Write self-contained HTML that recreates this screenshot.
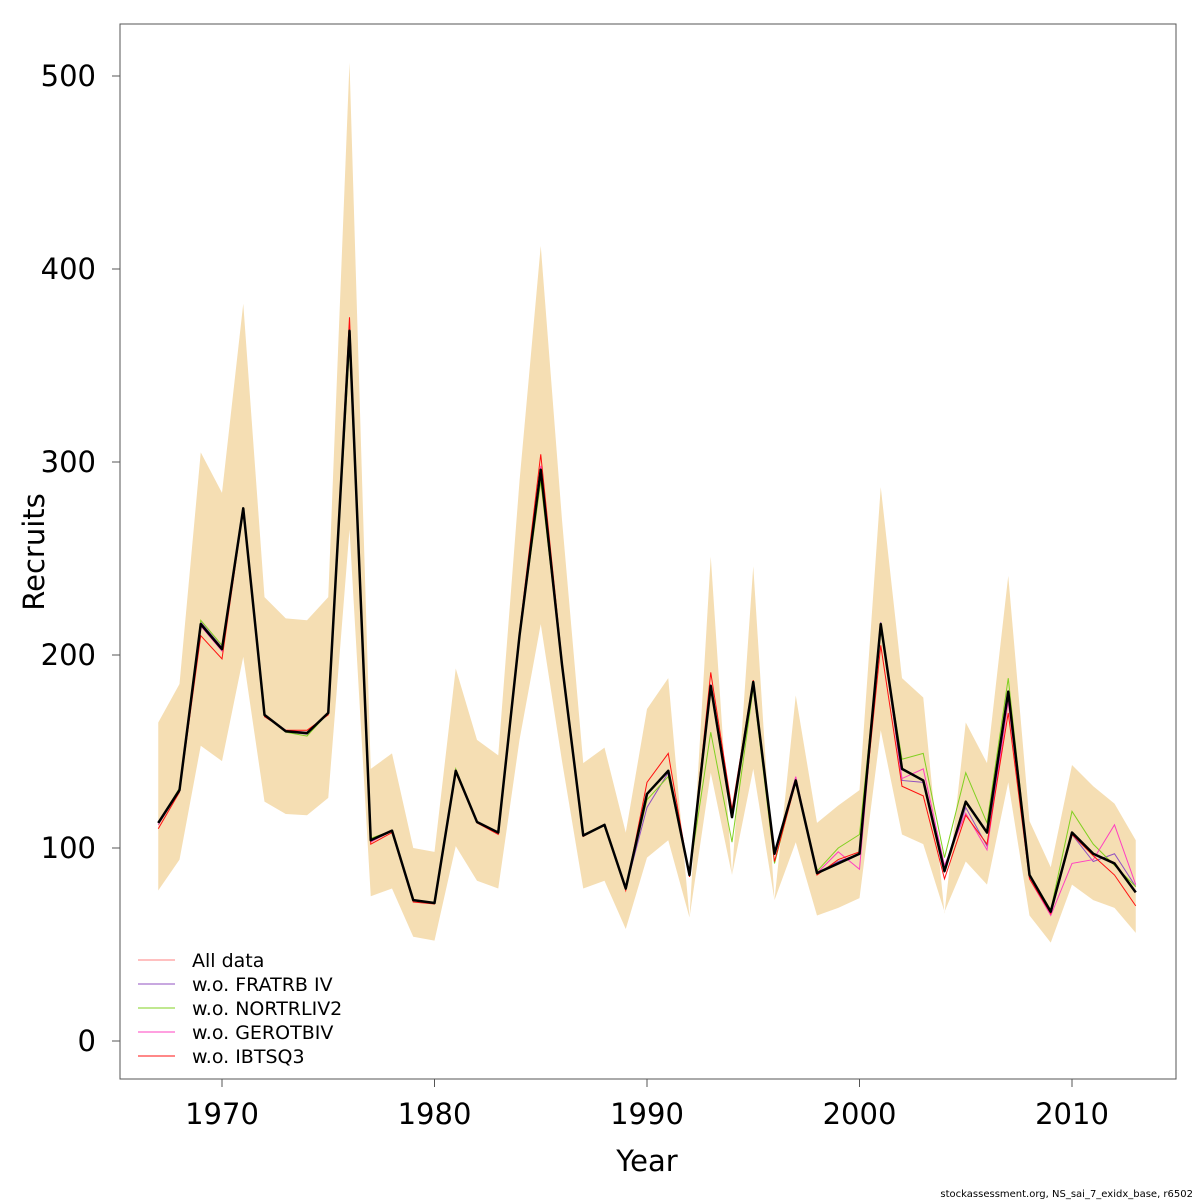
<!DOCTYPE html>
<html><head><meta charset="utf-8"><style>
body{margin:0;background:#fff}
svg{display:block;font-family:"DejaVu Sans","Liberation Sans",sans-serif}
</style></head><body>
<svg id="chart" width="1200" height="1200" viewBox="0 0 1200 1200">
<rect x="0" y="0" width="1200" height="1200" fill="#fff"/>
<g id="band"></g>
<g id="lines"></g>
<rect x="120" y="24" width="1056" height="1055" fill="none" stroke="#555" stroke-width="1"/>
<g id="yaxis"></g>
<g id="xaxis"></g>
<text x="647" y="1171" font-size="29" text-anchor="middle">Year</text>
<text transform="translate(44,552) rotate(-90)" font-size="29" text-anchor="middle">Recruits</text>
<g id="legend"></g>
<text x="1193" y="1197" font-size="10" text-anchor="end">stockassessment.org, NS_sai_7_exidx_base, r6502</text>
</svg>
<script>
const years=[];for(let y=1967;y<=2013;y++)years.push(y);
const base=[113,130,216,203,276,169,160.5,159.5,170,368,104,109,73,71.5,140,113.5,108,210,296,195,106.5,112,79,128,140,86,184,116,186,97,135,87,92,97,216,141,135,88,124,108,181,86,67,108,97,92,77];
const upper=[165,185,305,284,382,230,219,218,230,507,141,149,100,98,193,156,148,290,412,270,144,152,108,172,188,64,251,86,246,73,179,113,122,130,287,188,178,66,165,144,241,114,90,143,132,123,104];
const lower=[78,94,153,145,199,124,117.6,117,126,265,75,79,54,52,101,83,79,156,216,145,79,83,58,95,104,64,139,86,141,73,103,65,69,74,161,107,102,67,93,81,134,65,51,81,73,69,56];
const allData=base.slice();
const woFRATRB=[113,131,217,204,276,169,160,159,170,366,104,109,73,71.5,140,113.5,108,210,295,195,106.5,112,79,121,139,86,183,116,186,97,136,87,93,97,217,135,134,88,121,101,180,86,66,107,93,97,80];
const woNORTRLIV2=[113,131,218,205,276,169,160,158,170,360,105,109,73,71,141,113.5,108,210,290,195,106.5,112,79,125,137,87,160,103,183,92,135,88,100,107,213,146,149,95,139,113,188,86,68,119,102,91,80];
const woGEROTBIV=[112,130,215,202,276,169,161,160,170,370,103,109,73,71.5,140,113.5,108,210,298,195,106.5,112,79,128,140,86,185,117,186,97,137,87,98,89,216,136,141,91,118,99,176,84,65,92,94,112,81];
const woIBTSQ3=[110,129,210,198,275,168,161,161,169,375,102,108,72,71,139,113,107,212,304,197,106,112,78,134,149,85,191,120,187,93,134,86,94,98,205,132,127,84,117,102,170,84,66,107,96,86,70];
const seriesNames=["All data","w.o. FRATRB IV","w.o. NORTRLIV2","w.o. GEROTBIV","w.o. IBTSQ3"];
const seriesColors=["#ff8080","#9050c0","#80d020","#ff40c0","#ff1010"];
const seriesData=[allData,woFRATRB,woNORTRLIV2,woGEROTBIV,woIBTSQ3];
const yTicks=[0,100,200,300,400,500];
const xTicks=[1970,1980,1990,2000,2010];

const NS="http://www.w3.org/2000/svg";
const xs=y=>222+(y-1970)*21.25;
const ys=v=>1041-v*1.93;
function mk(tag,attrs,parent){const e=document.createElementNS(NS,tag);for(const k in attrs)e.setAttribute(k,attrs[k]);parent.appendChild(e);return e;}

const bandG=document.getElementById('band');
let pts=years.map((y,i)=>xs(y)+','+ys(upper[i]));
pts=pts.concat(years.map((y,i)=>xs(y)+','+ys(lower[i])).reverse());
const poly=mk('polygon',{points:pts.join(' '),fill:'#f5deb3'},bandG);



const linesG=document.getElementById('lines');
seriesData.forEach((d,si)=>{
  const p=mk('polyline',{points:years.map((y,i)=>xs(y)+','+ys(d[i])).join(' '),fill:'none',stroke:seriesColors[si],'stroke-width':1},linesG);
  
  
});
const bl=mk('polyline',{points:years.map((y,i)=>xs(y)+','+ys(base[i])).join(' '),fill:'none',stroke:'#000','stroke-width':2.5,'stroke-linejoin':'round'},linesG);



const yg=document.getElementById('yaxis');
mk('line',{x1:120,x2:120,y1:ys(0),y2:ys(500),stroke:'#555'},yg);
yTicks.forEach(t=>{
  mk('line',{x1:112,x2:120,y1:ys(t),y2:ys(t),stroke:'#555'},yg);
  const tx=mk('text',{x:96,y:ys(t)+10,'font-size':29,'text-anchor':'end'},yg);
  tx.textContent=t;
  
  
});
const xg=document.getElementById('xaxis');
xTicks.forEach(t=>{
  mk('line',{x1:xs(t),x2:xs(t),y1:1079,y2:1087,stroke:'#555'},xg);
  const tx=mk('text',{x:xs(t),y:1124,'font-size':29,'text-anchor':'middle'},xg);
  tx.textContent=t;
  
  
});

const lg=document.getElementById('legend');
seriesNames.forEach((n,i)=>{
  const yy=960+i*24;
  const l=mk('line',{x1:138,x2:175,y1:yy,y2:yy,stroke:seriesColors[i],'stroke-width':1},lg);
  
  
  const t=mk('text',{x:192,y:yy+7,'font-size':19},lg);
  t.textContent=n;
  
  
});
</script>
</body></html>
